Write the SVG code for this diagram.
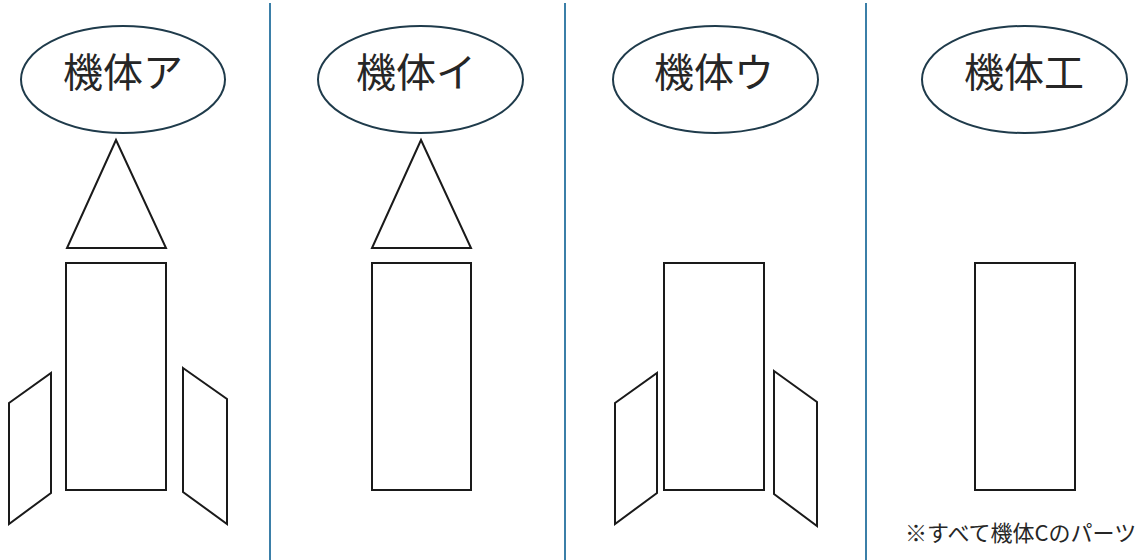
<svg xmlns="http://www.w3.org/2000/svg" width="1148" height="560" viewBox="0 0 1148 560">
  <style>
    .divider { stroke: #3b7fa8; stroke-width: 2; }
    .label-shape { fill: #ffffff; stroke: #1f3b4b; stroke-width: 2; }
    .label { font-family: "Noto Sans CJK JP", "Noto Sans", sans-serif; font-size: 40px; fill: #262626; text-anchor: middle; }
    .part { fill: #ffffff; stroke: #1a1a1a; stroke-width: 2; stroke-linejoin: miter; }
    .note { font-family: "Noto Sans CJK JP", "Noto Sans", sans-serif; font-size: 22px; fill: #262626; }
  </style>
  <rect width="1148" height="560" fill="#ffffff"/>

  <!-- column dividers -->
  <g id="dividers">
    <line class="divider" x1="270" y1="3" x2="270" y2="560"/>
    <line class="divider" x1="565" y1="3" x2="565" y2="560"/>
    <line class="divider" x1="866" y1="3" x2="866" y2="560"/>
  </g>

  <!-- airframe A: nose, body, two fins -->
  <g id="airframe-a">
    <ellipse class="label-shape" cx="123" cy="79.5" rx="102" ry="53.5"/>
    <text class="label" x="123" y="87">機体ア</text>
    <polygon class="part" points="116,140 67,248 166,248"/>
    <rect class="part" x="66" y="263" width="100" height="227"/>
    <polygon class="part" points="9,403 51,373 51,493 9,524"/>
    <polygon class="part" points="183,368 227,399 227,524 183,492"/>
  </g>

  <!-- airframe I: nose and body -->
  <g id="airframe-i">
    <ellipse class="label-shape" cx="420.5" cy="79.5" rx="102.5" ry="53.5"/>
    <text class="label" x="416" y="87">機体イ</text>
    <polygon class="part" points="421,140 372,248 471,248"/>
    <rect class="part" x="372" y="263" width="99" height="227"/>
  </g>

  <!-- airframe U: body and two fins -->
  <g id="airframe-u">
    <ellipse class="label-shape" cx="715.5" cy="79.5" rx="102.5" ry="53.5"/>
    <text class="label" x="714" y="87">機体ウ</text>
    <rect class="part" x="664" y="263" width="100" height="227"/>
    <polygon class="part" points="615,403 657,373 657,493 615,524"/>
    <polygon class="part" points="774,371 817,402 817,526 774,494"/>
  </g>

  <!-- airframe E: body only -->
  <g id="airframe-e">
    <ellipse class="label-shape" cx="1024.5" cy="79.5" rx="102.5" ry="53.5"/>
    <text class="label" x="1024" y="87">機体工</text>
    <rect class="part" x="975" y="263" width="100" height="227"/>
  </g>

  <g id="note">
    <text class="note" x="905" y="541">※すべて機体Cのパーツ</text>
  </g>
</svg>
